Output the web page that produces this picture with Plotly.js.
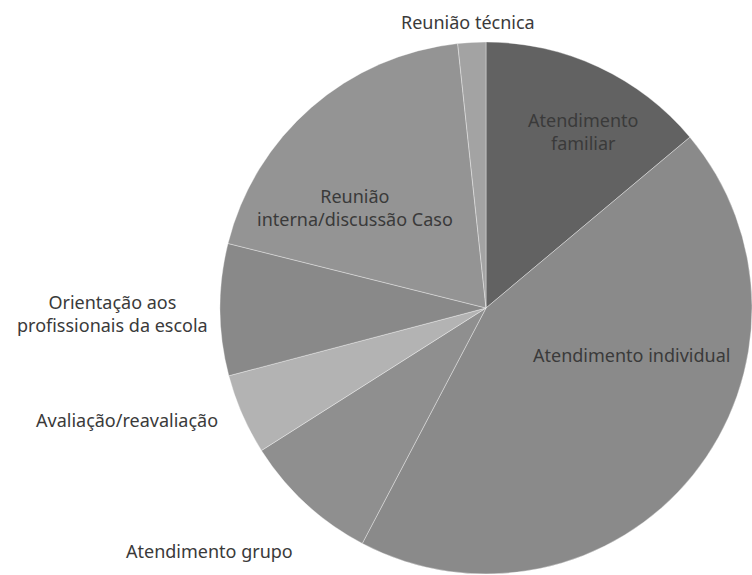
<!DOCTYPE html>
<html>
<head>
<meta charset="utf-8">
<script src="https://cdn.plot.ly/plotly-3.0.1.min.js"></script>
<style>html,body{margin:0;padding:0;background:#fff;}#chart{width:752px;height:575px;}</style>
</head>
<body>
<div id="chart"></div>
<script>
// Categories in clockwise order starting at 12 o'clock
const categories = [
  "Atendimento familiar",
  "Atendimento individual",
  "Atendimento grupo",
  "Avaliação/reavaliação",
  "Orientação aos profissionais da escola",
  "Reunião interna/discussão Caso",
  "Reunião técnica"
];
const values = [13.9, 43.8, 8.3, 4.9, 8.0, 19.4, 1.7];
const sliceColors = ["#626262", "#8a8a8a", "#8f8f8f", "#b3b3b3", "#898989", "#949494", "#a3a3a3"];
// Label text (with line breaks as in the reference)
const labelTexts = [
  "Atendimento<br>familiar",
  "Atendimento individual",
  "Atendimento grupo",
  "Avaliação/reavaliação",
  "Orientação aos<br>profissionais da escola",
  "Reunião<br>interna/discussão Caso",
  "Reunião técnica"
];
// Label anchor positions in pixels (x from left, y from top)
const labelPos = [[583,131],[631,355],[209,551],[127,420],[112,313],[355,208],[468,22]];

const W = 752, H = 575;
const data = [{
  type: "pie",
  labels: categories,
  values: values,
  sort: false,
  direction: "clockwise",
  rotation: 0,
  textinfo: "none",
  hoverinfo: "label+percent",
  marker: {colors: sliceColors, line: {color: "rgba(255,255,255,0.35)", width: 1}},
  domain: {x: [0.2926, 1], y: [0.0017, 0.927]},
  showlegend: false
}];
const annotations = labelTexts.map((t, i) => ({
  text: t,
  x: labelPos[i][0] / W,
  y: 1 - labelPos[i][1] / H,
  xref: "paper", yref: "paper",
  xanchor: "center", yanchor: "middle",
  showarrow: false,
  align: "center",
  font: {family: "Noto Sans, sans-serif", size: 18, color: "#3a3a3a"}
}));
const layout = {
  width: W, height: H,
  margin: {l: 0, r: 0, t: 0, b: 0},
  paper_bgcolor: "#ffffff",
  annotations: annotations,
  showlegend: false
};
Plotly.newPlot("chart", data, layout, {displayModeBar: false, staticPlot: true});
</script>
</body>
</html>
